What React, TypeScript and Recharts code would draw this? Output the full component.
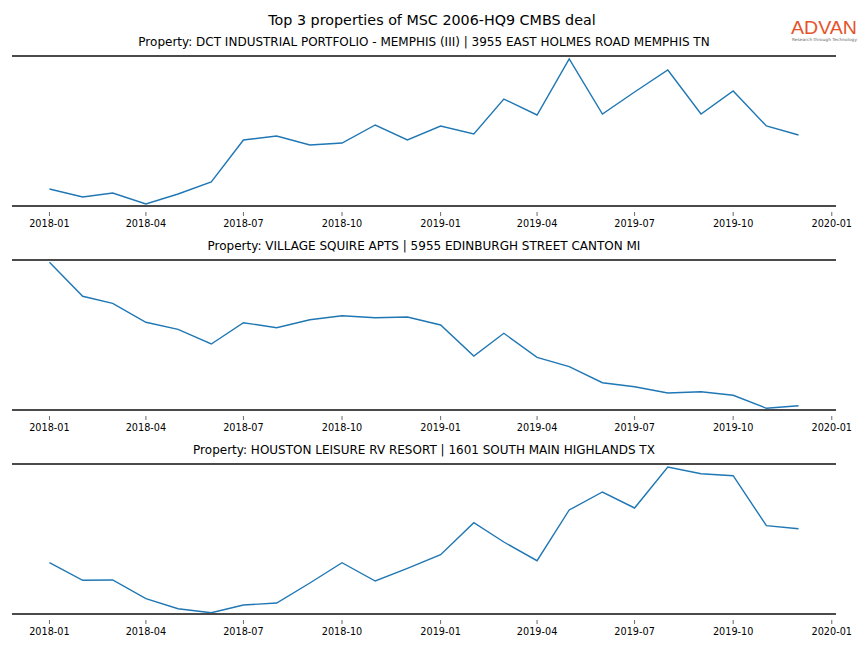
import React from "react";
import { LineChart, Line, XAxis, YAxis, ReferenceLine } from "recharts";

const months = [
  "2018-01", "2018-02", "2018-03", "2018-04", "2018-05", "2018-06",
  "2018-07", "2018-08", "2018-09", "2018-10", "2018-11", "2018-12",
  "2019-01", "2019-02", "2019-03", "2019-04", "2019-05", "2019-06",
  "2019-07", "2019-08", "2019-09", "2019-10", "2019-11", "2019-12",
];

const tickLabels = [
  "2018-01", "2018-04", "2018-07", "2018-10",
  "2019-01", "2019-04", "2019-07", "2019-10", "2020-01",
];

const mainTitle = "Top 3 properties of MSC 2006-HQ9 CMBS deal";

const panelTitles = [
  "Property: DCT INDUSTRIAL PORTFOLIO - MEMPHIS (III) | 3955 EAST HOLMES ROAD MEMPHIS TN",
  "Property: VILLAGE SQUIRE APTS | 5955 EDINBURGH STREET CANTON MI",
  "Property: HOUSTON LEISURE RV RESORT | 1601 SOUTH MAIN HIGHLANDS TX",
];

const dctValues = [
  17, 9, 13, 2, 12, 24, 66, 70, 61, 63, 81, 66,
  80, 72, 107, 91, 147, 92, 114, 136, 92, 115, 80, 71,
];

const villageValues = [
  147.7, 113.7, 106.7, 87.7, 80.7, 66, 87.3, 82.3, 90.3, 94.3, 92.3, 93,
  85, 54, 76.7, 52.7, 43.3, 27.3, 23.3, 17, 18.3, 14.7, 1.7, 4.3,
];

const houstonValues = [
  51.3, 33.7, 34, 15.3, 5.3, 1.3, 9, 11, 31, 51.3, 33, 45.7,
  59.3, 91.3, 72, 53.3, 104, 122, 106, 147, 140.3, 138.3, 88.3, 85.3,
];

const toTs = (s: string) => {
  const [y, m] = s.split("-").map(Number);
  return Date.UTC(y, m - 1, 1);
};

const firstTs = toTs(months[0]);
const lastTs = toTs(months[months.length - 1]);
const pad = (lastTs - firstTs) * 0.05;
const xDomain = [firstTs - pad, lastTs + pad];
const tickValues = tickLabels.map(toTs);

const FONT = "DejaVu Sans";
const SPINE = "#4a4a4a";

const Tick = (props: any) => {
  const { x, y, payload } = props;
  const label = new Date(payload.value).toISOString().slice(0, 7);
  return (
    <g>
      <line x1={x} x2={x} y1={y + 6} y2={y + 10} stroke="#444" strokeWidth={0.8} />
      <text x={x} y={y + 21} textAnchor="middle" fontSize={9.7} fontFamily={FONT} fill="#000">
        {label}
      </text>
    </g>
  );
};

const Panel = ({ values, top }: { values: number[]; top: number }) => {
  const data = months.map((m, i) => ({ t: toTs(m), v: values[i] }));
  return (
    <div style={{ position: "absolute", left: 0, top: top - 4, width: 864, height: 184 }}>
      <LineChart
        width={864}
        height={184}
        data={data}
        margin={{ top: 4, right: 28, left: 12, bottom: 0 }}
      >
        <XAxis
          dataKey="t"
          type="number"
          scale="time"
          domain={xDomain}
          ticks={tickValues}
          tick={<Tick />}
          tickLine={false}
          tickSize={0}
          tickMargin={0}
          interval={0}
          height={30}
          axisLine={{ stroke: SPINE, strokeWidth: 2 }}
          allowDataOverflow
        />
        <YAxis hide type="number" domain={[0, 150]} allowDataOverflow />
        <ReferenceLine y={150} stroke={SPINE} strokeWidth={2} ifOverflow="extendDomain" />
        <Line
          type="linear"
          dataKey="v"
          stroke="#1f77b4"
          strokeWidth={1.4}
          dot={false}
          isAnimationActive={false}
        />
      </LineChart>
    </div>
  );
};

export default function App() {
  const tops = [56, 260, 464];
  const seriesList = [dctValues, villageValues, houstonValues];
  return (
    <div style={{ position: "absolute", left: 0, top: 0, width: 864, height: 648, background: "#fff" }}>
      {seriesList.map((vals, i) => (
        <Panel key={i} values={vals} top={tops[i]} />
      ))}
      <svg width={864} height={648} style={{ position: "absolute", left: 0, top: 0, pointerEvents: "none" }}>
        <text x={432} y={25} textAnchor="middle" fontSize={14.3} fontFamily={FONT} fill="#000">
          {mainTitle}
        </text>
        {panelTitles.map((t, i) => (
          <text key={i} x={424} y={tops[i] - 10} textAnchor="middle" fontSize={12} fontFamily={FONT} fill="#000">
            {t}
          </text>
        ))}
        <text x={791} y={34} fontSize={19} fontFamily="Liberation Sans" fill="#E5532B" textLength={66} lengthAdjust="spacingAndGlyphs">
          ADVAN
        </text>
        <text x={792} y={40.5} fontSize={4.2} fontFamily={FONT} fill="#666" textLength={65} lengthAdjust="spacingAndGlyphs">
          Research through Technology
        </text>
      </svg>
    </div>
  );
}
